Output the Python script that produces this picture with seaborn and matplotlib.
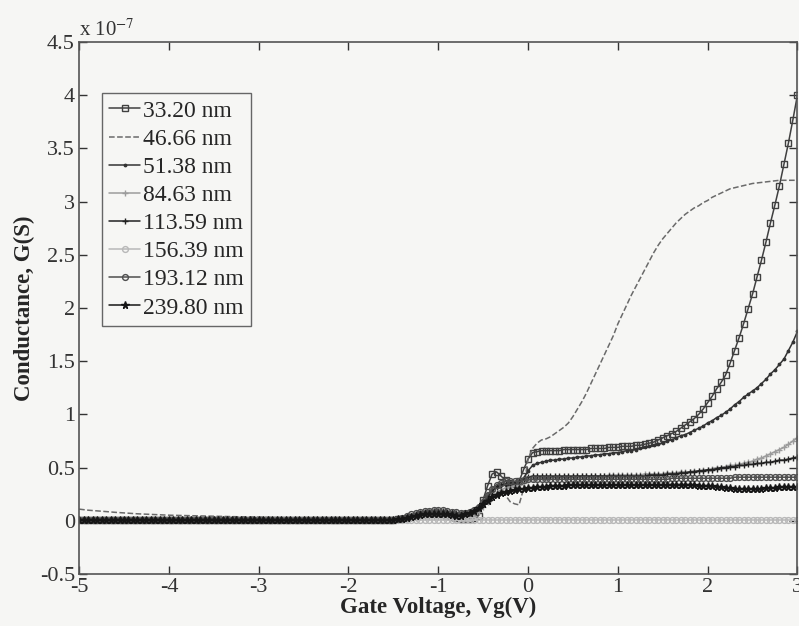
import numpy as np
import pandas as pd
import matplotlib
matplotlib.use("Agg")
import matplotlib.pyplot as plt
import seaborn as sns

# gate voltage grid (V), one sample every 0.05 V from -5 to 3
vg = np.round(np.linspace(-5, 3, 161), 3)

# -5.0 .. -1.55 V : curves sit on the zero line, except the dashed one
flat_left = [0.01] * 70
dashed_left = [0.11, 0.105, 0.10, 0.097, 0.093, 0.09, 0.087, 0.083, 0.08, 0.077,
               0.074, 0.071, 0.068, 0.066, 0.064, 0.062, 0.06, 0.058, 0.056, 0.055,
               0.053, 0.052, 0.05, 0.049, 0.048, 0.047, 0.046, 0.045, 0.044, 0.043,
               0.042, 0.041, 0.04, 0.039, 0.038, 0.037, 0.036, 0.035, 0.034, 0.034,
               0.033, 0.032, 0.032, 0.031, 0.03, 0.03, 0.029, 0.029, 0.028, 0.028,
               0.027, 0.027, 0.026, 0.026, 0.025, 0.025, 0.024, 0.024, 0.023, 0.023,
               0.022, 0.022, 0.021, 0.021, 0.02, 0.02, 0.02, 0.02, 0.02, 0.02]

# -1.5 .. 3.0 V (rows of 0.5 V), conductance in units of 1e-7 S
g_3320 = [0.01, 0.015, 0.02, 0.03, 0.04, 0.05, 0.06, 0.065, 0.07, 0.07,
          0.07, 0.06, 0.05, 0.04, 0.03, 0.02, 0.02, 0.02, 0.03, 0.05,
          0.20, 0.33, 0.44, 0.46, 0.42, 0.38, 0.36, 0.35, 0.37, 0.48,
          0.58, 0.64, 0.65, 0.66, 0.66, 0.66, 0.66, 0.66, 0.67, 0.67,
          0.67, 0.67, 0.67, 0.67, 0.68, 0.68, 0.68, 0.68, 0.69, 0.69,
          0.69, 0.70, 0.70, 0.70, 0.71, 0.71, 0.72, 0.73, 0.74, 0.76,
          0.78, 0.80, 0.82, 0.84, 0.87, 0.90, 0.93, 0.96, 1.00, 1.05,
          1.11, 1.17, 1.24, 1.30, 1.37, 1.48, 1.60, 1.72, 1.85, 1.99,
          2.13, 2.29, 2.45, 2.62, 2.80, 2.97, 3.15, 3.35, 3.55, 3.77,
          4.00]
g_4666 = [0.02, 0.02, 0.02, 0.025, 0.03, 0.04, 0.05, 0.06, 0.07, 0.075,
          0.08, 0.08, 0.08, 0.08, 0.08, 0.08, 0.09, 0.10, 0.12, 0.14,
          0.20, 0.26, 0.31, 0.33, 0.30, 0.24, 0.18, 0.16, 0.15, 0.30,
          0.58, 0.68, 0.73, 0.76, 0.77, 0.79, 0.82, 0.85, 0.88, 0.92,
          0.98, 1.05, 1.12, 1.20, 1.29, 1.38, 1.47, 1.56, 1.65, 1.74,
          1.85, 1.94, 2.03, 2.12, 2.20, 2.28, 2.36, 2.44, 2.52, 2.59,
          2.65, 2.70, 2.75, 2.80, 2.84, 2.88, 2.91, 2.94, 2.96, 2.99,
          3.01, 3.04, 3.06, 3.08, 3.10, 3.12, 3.13, 3.14, 3.15, 3.16,
          3.17, 3.175, 3.18, 3.185, 3.19, 3.195, 3.20, 3.20, 3.20, 3.20,
          3.20]
g_5138 = [0.01, 0.015, 0.02, 0.03, 0.04, 0.05, 0.06, 0.065, 0.07, 0.07,
          0.07, 0.065, 0.06, 0.055, 0.05, 0.05, 0.05, 0.06, 0.08, 0.11,
          0.16, 0.22, 0.28, 0.32, 0.34, 0.34, 0.33, 0.33, 0.35, 0.40,
          0.47, 0.52, 0.54, 0.55, 0.56, 0.57, 0.57, 0.58, 0.58, 0.59,
          0.59, 0.60, 0.60, 0.61, 0.61, 0.62, 0.62, 0.63, 0.63, 0.64,
          0.64, 0.65, 0.66, 0.66, 0.67, 0.68, 0.69, 0.70, 0.71, 0.72,
          0.73, 0.75, 0.76, 0.78, 0.80, 0.81, 0.83, 0.85, 0.87, 0.89,
          0.92, 0.94, 0.97, 0.99, 1.02, 1.05, 1.09, 1.12, 1.16, 1.19,
          1.22, 1.25, 1.29, 1.33, 1.38, 1.42, 1.47, 1.52, 1.60, 1.68,
          1.78]
g_8463 = [0.01, 0.01, 0.015, 0.02, 0.025, 0.03, 0.035, 0.04, 0.04, 0.04,
          0.04, 0.04, 0.035, 0.03, 0.03, 0.03, 0.03, 0.04, 0.05, 0.08,
          0.13, 0.18, 0.23, 0.26, 0.29, 0.31, 0.32, 0.33, 0.34, 0.36,
          0.38, 0.39, 0.40, 0.40, 0.40, 0.41, 0.41, 0.41, 0.41, 0.41,
          0.41, 0.42, 0.42, 0.42, 0.42, 0.42, 0.42, 0.42, 0.43, 0.43,
          0.43, 0.43, 0.43, 0.43, 0.43, 0.43, 0.44, 0.44, 0.44, 0.44,
          0.44, 0.45, 0.45, 0.45, 0.46, 0.46, 0.46, 0.47, 0.47, 0.48,
          0.48, 0.49, 0.50, 0.50, 0.51, 0.52, 0.52, 0.53, 0.54, 0.55,
          0.56, 0.58, 0.59, 0.61, 0.63, 0.65, 0.67, 0.69, 0.72, 0.75,
          0.78]
g_11359 = [0.01, 0.02, 0.03, 0.04, 0.05, 0.06, 0.07, 0.08, 0.08, 0.09,
           0.09, 0.09, 0.08, 0.08, 0.07, 0.06, 0.06, 0.07, 0.09, 0.12,
           0.17, 0.23, 0.28, 0.32, 0.34, 0.35, 0.36, 0.36, 0.37, 0.39,
           0.41, 0.42, 0.42, 0.42, 0.42, 0.42, 0.42, 0.42, 0.42, 0.42,
           0.42, 0.42, 0.42, 0.42, 0.42, 0.42, 0.42, 0.42, 0.42, 0.42,
           0.42, 0.42, 0.42, 0.42, 0.42, 0.42, 0.42, 0.43, 0.43, 0.43,
           0.43, 0.44, 0.44, 0.44, 0.45, 0.45, 0.46, 0.46, 0.47, 0.47,
           0.48, 0.48, 0.49, 0.50, 0.50, 0.51, 0.51, 0.52, 0.52, 0.53,
           0.53, 0.54, 0.54, 0.55, 0.55, 0.56, 0.57, 0.57, 0.58, 0.59,
           0.60]
g_15639 = [0.01] * 91
g_19312 = [0.01, 0.02, 0.03, 0.045, 0.06, 0.07, 0.08, 0.09, 0.095, 0.10,
           0.10, 0.10, 0.09, 0.085, 0.08, 0.07, 0.07, 0.08, 0.10, 0.13,
           0.18, 0.24, 0.30, 0.34, 0.36, 0.37, 0.37, 0.37, 0.37, 0.38,
           0.39, 0.39, 0.39, 0.39, 0.39, 0.39, 0.39, 0.39, 0.39, 0.39,
           0.39, 0.39, 0.39, 0.39, 0.39, 0.39, 0.39, 0.39, 0.39, 0.39,
           0.39, 0.39, 0.39, 0.39, 0.39, 0.39, 0.39, 0.39, 0.39, 0.39,
           0.39, 0.39, 0.40, 0.40, 0.40, 0.40, 0.40, 0.40, 0.40, 0.40,
           0.40, 0.40, 0.40, 0.40, 0.40, 0.40, 0.41, 0.41, 0.41, 0.41,
           0.41, 0.41, 0.41, 0.41, 0.41, 0.41, 0.41, 0.41, 0.41, 0.41,
           0.41]
g_23980 = [0.01, 0.015, 0.02, 0.03, 0.04, 0.05, 0.055, 0.06, 0.06, 0.06,
           0.06, 0.06, 0.06, 0.055, 0.05, 0.05, 0.06, 0.07, 0.09, 0.12,
           0.16, 0.19, 0.22, 0.24, 0.26, 0.27, 0.28, 0.29, 0.30, 0.30,
           0.31, 0.31, 0.32, 0.32, 0.32, 0.33, 0.33, 0.33, 0.33, 0.34,
           0.34, 0.34, 0.34, 0.34, 0.34, 0.34, 0.34, 0.34, 0.34, 0.34,
           0.34, 0.34, 0.34, 0.34, 0.34, 0.34, 0.34, 0.34, 0.34, 0.34,
           0.34, 0.34, 0.34, 0.34, 0.34, 0.34, 0.34, 0.34, 0.33, 0.33,
           0.33, 0.33, 0.32, 0.32, 0.31, 0.31, 0.30, 0.30, 0.30, 0.30,
           0.30, 0.30, 0.30, 0.31, 0.31, 0.31, 0.32, 0.32, 0.32, 0.32,
           0.32]

series = {
    "33.20 nm": flat_left + g_3320,
    "46.66 nm": dashed_left + g_4666,
    "51.38 nm": flat_left + g_5138,
    "84.63 nm": flat_left + g_8463,
    "113.59 nm": flat_left + g_11359,
    "156.39 nm": flat_left + g_15639,
    "193.12 nm": flat_left + g_19312,
    "239.80 nm": flat_left + g_23980,
}

styles = {
    "33.20 nm": dict(color="#404040", marker="s", markersize=4.2, markerfacecolor="none", linestyle="-"),
    "46.66 nm": dict(color="#6a6a6a", marker=None, linestyle="--"),
    "51.38 nm": dict(color="#333333", marker=".", markersize=3.5, linestyle="-"),
    "84.63 nm": dict(color="#9c9c9c", marker="+", markersize=5, linestyle="-"),
    "113.59 nm": dict(color="#222222", marker="+", markersize=5, linestyle="-"),
    "156.39 nm": dict(color="#b8b8b8", marker="o", markersize=4.2, markerfacecolor="none", linestyle="-"),
    "193.12 nm": dict(color="#4e4e4e", marker="o", markersize=4.2, markerfacecolor="none", linestyle="-"),
    "239.80 nm": dict(color="#161616", marker="*", markersize=5.5, linestyle="-"),
}

yticks = [-0.5, 0, 0.5, 1, 1.5, 2, 2.5, 3, 3.5, 4, 4.5]
ytick_labels = ["-0.5", "0", "0.5", "1", "1.5", "2", "2.5", "3", "3.5", "4", "4.5"]
xticks = [-5, -4, -3, -2, -1, 0, 1, 2, 3]

sns.set_style("ticks")
plt.rcParams["font.family"] = ["Liberation Serif"]
plt.rcParams["mathtext.fontset"] = "stix"

bg = "#f6f6f4"
fig = plt.figure(figsize=(7.99, 6.26), dpi=100, facecolor=bg)
ax = fig.add_axes([0.099, 0.083, 0.899, 0.850])
ax.set_facecolor(bg)

for name, vals in series.items():
    df = pd.DataFrame({"Vg": vg, "G": vals})
    st = dict(styles[name])
    col = st.pop("color")
    sns.lineplot(data=df, x="Vg", y="G", ax=ax, label=name, color=col,
                 markeredgecolor=col, markeredgewidth=1.0, linewidth=1.1,
                 estimator=None, errorbar=None, **st)

ax.set_xlim(-5, 3)
ax.set_ylim(-0.5, 4.5)
ax.set_xticks(xticks)
ax.set_xticklabels([str(t) for t in xticks])
ax.set_yticks(yticks)
ax.set_yticklabels(ytick_labels)
ax.tick_params(direction="in", top=True, right=True, length=6, width=1,
               labelsize=16, colors="#333333", pad=3)
for sp in ax.spines.values():
    sp.set_color("#555555")
    sp.set_linewidth(1.2)

ax.set_xlabel("Gate Voltage, Vg(V)", fontsize=16.5, fontweight="bold", labelpad=0)
ax.set_ylabel("Conductance, G(S)", fontsize=16.5, fontweight="bold", labelpad=3)
ax.text(0.0, 1.003, r"x 10$^{-7}$", transform=ax.transAxes, fontsize=15,
        ha="left", va="bottom", color="#333333")

leg = ax.legend(loc="upper left", bbox_to_anchor=(0.032, 0.904), fontsize=17,
                frameon=True, fancybox=False, framealpha=1, edgecolor="#666666",
                borderpad=0.3, labelspacing=0.28, handlelength=1.3,
                handletextpad=0.15, borderaxespad=0)
leg.get_frame().set_facecolor(bg)
leg.get_frame().set_linewidth(1.0)

fig.savefig("out.png", dpi=100, facecolor=bg)
